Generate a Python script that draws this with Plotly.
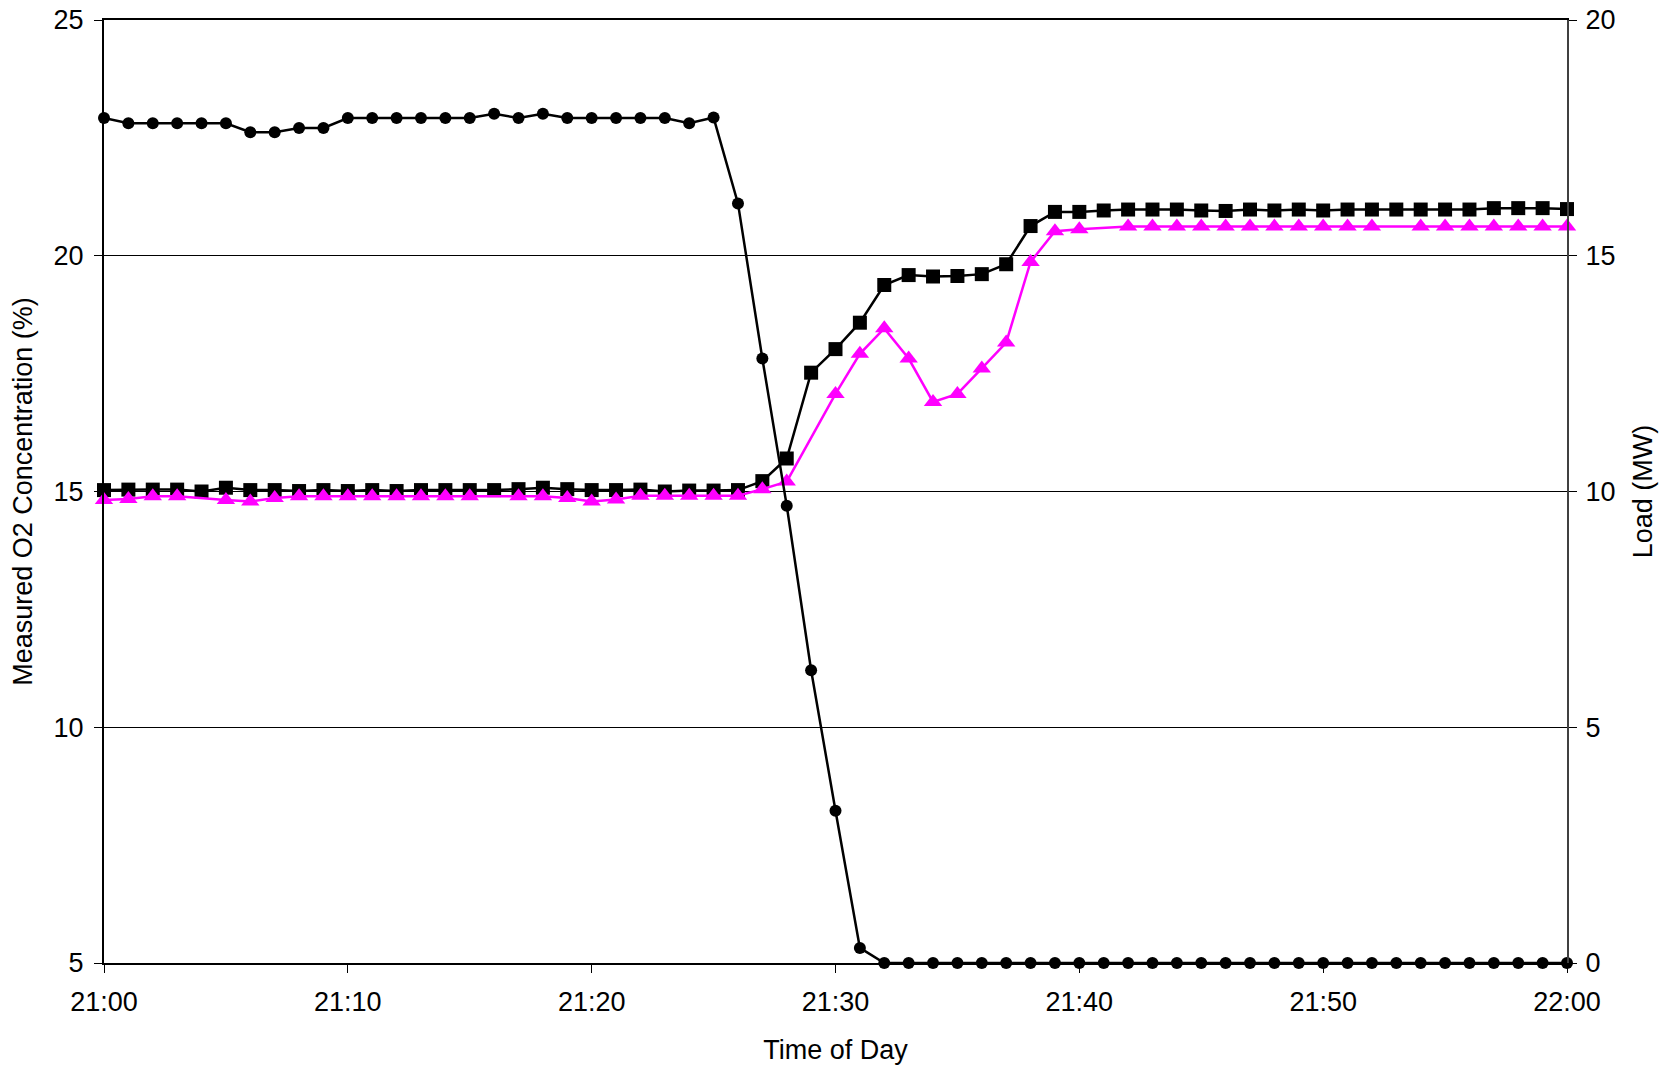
import plotly.graph_objects as go

# Minutes after 21:00
minutes = list(range(0, 61))

tick_vals = [0, 10, 20, 30, 40, 50, 60]
tick_text = ["21:00", "21:10", "21:20", "21:30", "21:40", "21:50", "22:00"]

# Measured O2 concentration (%) - square markers (left axis)
o2_square = [15.03, 15.04, 15.04, 15.04, 15.00, 15.08, 15.03, 15.03, 15.01, 15.03,
             15.01, 15.03, 15.01, 15.03, 15.03, 15.03, 15.03, 15.05, 15.08, 15.05,
             15.03, 15.03, 15.04, 15.00, 15.02, 15.02, 15.03, 15.22, 15.70, 17.52,
             18.02, 18.58, 19.38, 19.59, 19.56, 19.57, 19.61, 19.82, 20.63, 20.93,
             20.93, 20.96, 20.98, 20.98, 20.98, 20.96, 20.95, 20.98, 20.96, 20.98,
             20.96, 20.98, 20.98, 20.98, 20.98, 20.98, 20.98, 21.01, 21.01, 21.01,
             20.99]

# Measured O2 concentration (%) - triangle markers (left axis)
o2_triangle = [14.82, 14.84, 14.90, 14.90, None, 14.82, 14.79, 14.86, 14.90, 14.90,
               14.90, 14.90, 14.90, 14.90, 14.90, 14.90, None, 14.90, 14.90, 14.86,
               14.79, 14.83, 14.91, 14.91, 14.91, 14.91, 14.91, 15.05, 15.21, None,
               17.07, 17.92, 18.46, 17.82, 16.90, 17.07, 17.61, 18.16, 19.87, 20.52,
               20.56, None, 20.62, 20.62, 20.62, 20.62, 20.62, 20.62, 20.62, 20.62,
               20.62, 20.62, 20.62, None, 20.62, 20.62, 20.62, 20.62, 20.62, 20.62,
               20.62]

# Load (MW) - circle markers (right axis)
load_mw = [17.92, 17.81, 17.81, 17.81, 17.81, 17.81, 17.62, 17.62, 17.71, 17.71,
           17.92, 17.92, 17.92, 17.92, 17.92, 17.92, 18.01, 17.92, 18.01, 17.92,
           17.92, 17.92, 17.92, 17.92, 17.81, 17.93, 16.11, 12.82, 9.70, 6.21,
           3.23, 0.32, 0.0, 0.0, 0.0, 0.0, 0.0, 0.0, 0.0, 0.0,
           0.0, 0.0, 0.0, 0.0, 0.0, 0.0, 0.0, 0.0, 0.0, 0.0,
           0.0, 0.0, 0.0, 0.0, 0.0, 0.0, 0.0, 0.0, 0.0, 0.0,
           0.0]

FONT = "Liberation Sans, Arial, sans-serif"
FS = 27

fig = go.Figure()

fig.add_trace(go.Scatter(
    x=minutes, y=o2_square, mode="lines+markers", name="O2 (square)",
    line=dict(color="black", width=2.5),
    marker=dict(symbol="square", size=14, color="black"),
    cliponaxis=False, yaxis="y"))

fig.add_trace(go.Scatter(
    x=minutes, y=o2_triangle, mode="lines+markers", name="O2 (triangle)",
    line=dict(color="#FF00FF", width=2.5), connectgaps=True,
    marker=dict(symbol="triangle-up", size=16, color="#FF00FF"),
    cliponaxis=False, yaxis="y"))

fig.add_trace(go.Scatter(
    x=minutes, y=load_mw, mode="lines+markers", name="Load",
    line=dict(color="black", width=2.5),
    marker=dict(symbol="circle", size=12, color="black"),
    cliponaxis=False, yaxis="y2"))

fig.update_layout(
    width=1669, height=1066,
    margin=dict(l=104, r=102, t=20, b=103, autoexpand=False),
    paper_bgcolor="white", plot_bgcolor="white",
    showlegend=False,
    font=dict(family=FONT, size=FS, color="black"),
    xaxis=dict(
        range=[0, 60], tickvals=tick_vals, ticktext=tick_text,
        showgrid=False, zeroline=False, automargin=False,
        showline=True, linecolor="black", linewidth=2, mirror=True,
        ticks="outside", ticklen=8, tickcolor="black", tickwidth=1,
        ticklabelstandoff=6, ticklabeloverflow="allow",
        tickfont=dict(family=FONT, size=FS),
        title=dict(text="Time of Day", font=dict(family=FONT, size=FS), standoff=24),
    ),
    yaxis=dict(
        range=[5, 25], tickvals=[5, 10, 15, 20, 25],
        showgrid=True, gridcolor="black", gridwidth=1, zeroline=False, automargin=False,
        showline=True, linecolor="black", linewidth=2,
        ticks="outside", ticklen=8, tickcolor="black", tickwidth=1,
        ticklabelstandoff=5, ticklabeloverflow="allow",
        tickfont=dict(family=FONT, size=FS),
        title=dict(text="Measured O2 Concentration (%)", font=dict(family=FONT, size=FS), standoff=13),
    ),
    yaxis2=dict(
        range=[0, 20], tickvals=[0, 5, 10, 15, 20],
        overlaying="y", side="right", automargin=False,
        showgrid=False, zeroline=False,
        showline=True, linecolor="#404040", linewidth=2,
        ticks="outside", ticklen=8, tickcolor="black", tickwidth=1,
        ticklabelstandoff=3, ticklabeloverflow="allow",
        tickfont=dict(family=FONT, size=FS),
        title=dict(text="Load (MW)", font=dict(family=FONT, size=FS), standoff=19),
    ),
)

fig.write_html("out.html", config={"displayModeBar": False},
               post_script="document.body.style.margin='0px';")
